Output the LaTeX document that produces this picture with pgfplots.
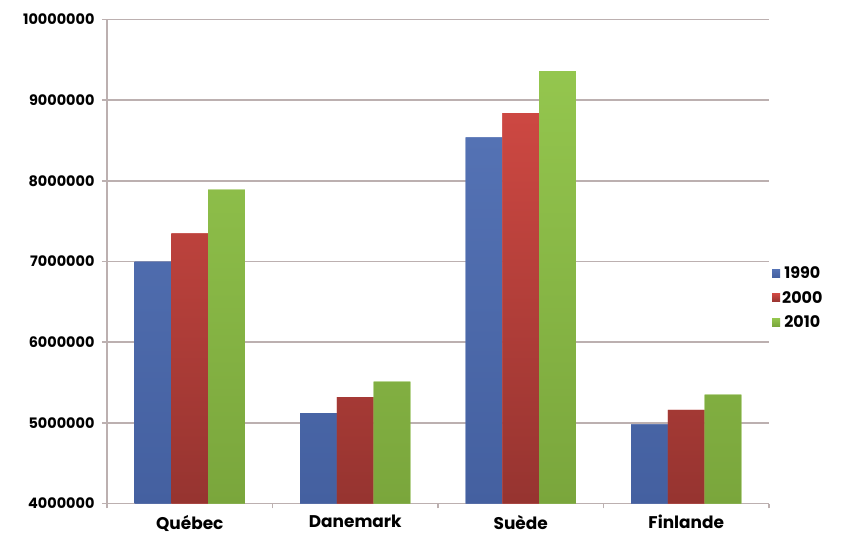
\documentclass[border=0pt]{standalone}
\usepackage{fontspec}
\setmainfont{Poppins}
\usepackage{pgfplots}
\pgfplotsset{compat=1.18}
\definecolor{gridc}{RGB}{188,176,176}
\definecolor{blueT}{RGB}{84,114,180}
\definecolor{blueB}{RGB}{68,96,160}
\definecolor{redT}{RGB}{205,72,66}
\definecolor{redB}{RGB}{150,52,48}
\definecolor{greenT}{RGB}{148,198,78}
\definecolor{greenB}{RGB}{122,166,60}
\begin{document}
\begin{tikzpicture}
\useasboundingbox (-107bp,-31.5bp) rectangle (750bp,503.5bp);
\begin{axis}[
  at={(0,0)}, anchor=south west,
  scale only axis, width=662bp, height=484bp,
  ybar=0pt, bar width=36.7bp,
  xmin=0.5, xmax=4.5, ymin=4000000, ymax=10000000,
  xtick={1,2,3,4},
  xticklabels={Québec,Danemark,Suède,Finlande},
  minor xtick={0.5,1.5,2.5,3.5,4.5},
  ytick={4000000,5000000,6000000,7000000,8000000,9000000,10000000},
  scaled y ticks=false,
  /pgf/number format/assume math mode=true,
  yticklabel style={/pgf/number format/fixed, /pgf/number format/1000 sep={}, font=\fontsize{14.5}{17}\selectfont\bfseries, xshift=-4bp},
  xticklabel style={font=\fontsize{17}{20}\selectfont\bfseries, yshift=-3bp},
  ymajorgrids,
  major grid style={gridc, line width=1.5bp},
  axis x line*=bottom, axis y line*=left,
  axis line style={gridc, line width=1.5bp},
  tick align=outside,
  major tick length=5bp, minor tick length=5bp,
  major x tick style={draw=none},
  tick style={gridc, line width=1.5bp},
  legend style={at={(1,0.425)}, anchor=west, draw=none, fill=none,
    font=\fontsize{16}{19}\selectfont\bfseries, row sep=7bp,
    /tikz/every even column/.append style={column sep=2bp}},
  legend image code/.code={\fill[#1] (0bp,-4bp) rectangle (8bp,4bp);},
]
\addplot[draw=none, top color=blueT, bottom color=blueB, fill=blueT] coordinates {(1,7000000) (2,5120000) (3,8540000) (4,4980000)};
\addplot[draw=none, top color=redT, bottom color=redB, fill=redT] coordinates {(1,7350000) (2,5320000) (3,8840000) (4,5160000)};
\addplot[draw=none, top color=greenT, bottom color=greenB, fill=greenT] coordinates {(1,7890000) (2,5510000) (3,9360000) (4,5350000)};
\legend{1990,2000,2010}
\end{axis}
\end{tikzpicture}
\end{document}
